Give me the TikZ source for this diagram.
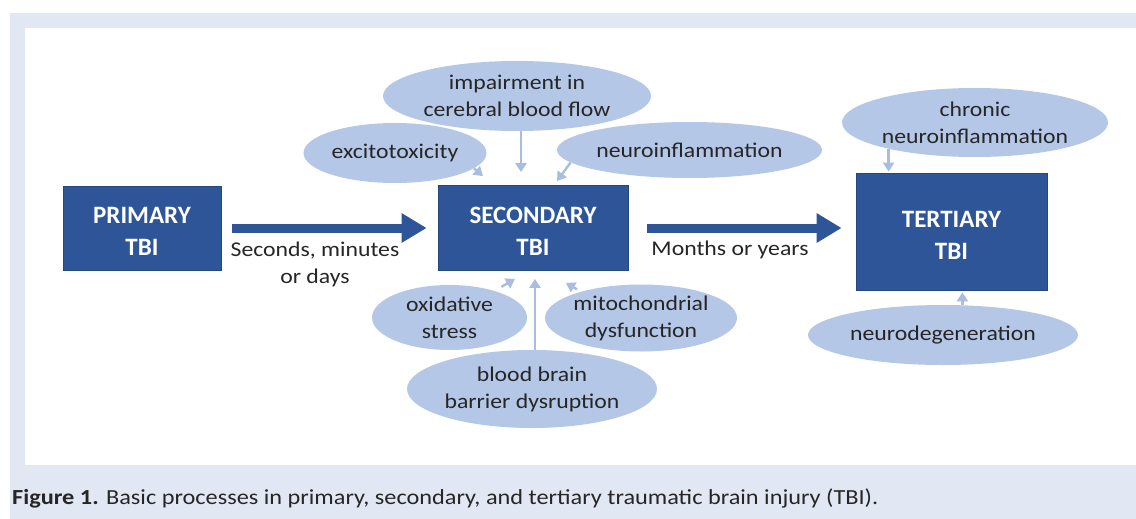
\documentclass[tikz,border=0pt]{standalone}
\usepackage{fontspec}
\setmainfont{Carlito}
\newfontfamily\widefont[FakeStretch=1.13]{Carlito}
\usetikzlibrary{shapes.geometric, arrows.meta}
\definecolor{CFrame}{HTML}{E1E8F4}
\definecolor{CBox}{HTML}{2D5597}
\definecolor{CBoxLine}{HTML}{24477E}
\definecolor{CBubble}{HTML}{B4C7E7}
\definecolor{CFeed}{HTML}{A8BDE0}
\definecolor{CText}{HTML}{262626}

\begin{document}
\begin{tikzpicture}[x=1pt, y=-1pt,
    tbibox/.style={draw=CBoxLine, line width=0.8pt, fill=CBox, text=white, align=center,
        inner sep=0pt, text height=55pt, font=\fontsize{25}{32}\selectfont\bfseries},
    bubble/.style={ellipse, fill=CBubble, text=CText, align=center, inner sep=-10pt,
        font=\widefont\fontsize{21}{27}\selectfont},
    feed/.style={draw=CFeed, line width=2.4pt, -{Triangle[length=9pt, width=11pt]}},
    bigarrow/.style={draw=CBox, line width=9pt, -{Triangle[length=25pt, width=28pt]}},
    timelabel/.style={text=CText, align=center, inner sep=0pt,
        font=\widefont\fontsize{21}{27}\selectfont}]
    \useasboundingbox (0,0) rectangle (1136,519);
    \fill [CFrame] (10,13) rectangle (1136,519);
    \fill [white]  (25,28) rectangle (1136,465);

    % the three stages
    \node [tbibox, minimum width=158pt, minimum height=84pt]  (primary)   at (142,228)    {PRIMARY\\TBI};
    \node [tbibox, minimum width=190pt, minimum height=85pt]  (secondary) at (533,228)    {SECONDARY\\TBI};
    \node [tbibox, minimum width=191pt, minimum height=117pt] (tertiary)  at (951.5,231.5) {TERTIARY\\TBI};

    % processes
    \node [bubble, minimum width=268pt, minimum height=70pt] (flow)    at (517,96)      {impairment in\\cerebral blood flow};
    \node [bubble, minimum width=183pt, minimum height=60pt] (excito)  at (395,153)     {excitotoxicity};
    \node [bubble, minimum width=265pt, minimum height=56pt] (neuro)   at (689.5,150)   {neuroinflammation};
    \node [bubble, minimum width=266pt, minimum height=69pt] (chronic) at (975,122.5)   {chronic\\neuroinflammation};
    \node [bubble, minimum width=155pt, minimum height=65pt] (oxid)    at (449.5,317.5) {oxidative\\stress};
    \node [bubble, minimum width=192pt, minimum height=67pt] (mito)    at (641,318)     {mitochondrial\\dysfunction};
    \node [bubble, minimum width=250pt, minimum height=78pt] (barrier) at (532,389)     {blood brain\\barrier dysruption};
    \node [bubble, minimum width=270pt, minimum height=60pt] (degen)   at (943,335)     {neurodegeneration};

    \draw [feed] (excito.-11) -- ([xshift=-50pt, yshift=9pt]secondary.north);
    \draw [feed] ([xshift=4pt]flow.south) -- ([xshift=-12pt, yshift=13pt]secondary.north);
    \draw [feed] (neuro.186) -- ([xshift=24pt, yshift=4pt]secondary.north);
    \draw [feed] ([xshift=52pt, yshift=-2pt]oxid.north) -- ([xshift=-18pt, yshift=-8pt]secondary.south);
    \draw [feed] ([xshift=3pt]barrier.north) -- ([xshift=2pt, yshift=-8pt]secondary.south);
    \draw [feed] ([xshift=-64pt, yshift=-5pt]mito.north) -- ([xshift=33pt, yshift=-12pt]secondary.south);
    \draw [feed] (chronic.197) -- ([yshift=1pt]chronic.197 |- tertiary.north);
    \draw [feed] (degen.57) -- ([yshift=-2pt]degen.57 |- tertiary.south);

    % time course
    \draw [bigarrow, shorten <=11pt, shorten >=11pt] (primary) -- (secondary);
    \draw [bigarrow, shorten <=19pt, shorten >=14pt] (secondary.east) -- (secondary.east -| tertiary.west);
    \node [timelabel] (fast) at (315,264) {Seconds, minutes\\or days};
    \node [timelabel] (slow) at (730,250) {Months or years};

    \node [anchor=base west, inner sep=0pt, text=CText, font=\widefont\fontsize{21.5}{24}\selectfont] (caption) at (12,504)
        {\textbf{Figure 1.} Basic processes in primary, secondary, and tertiary traumatic brain injury (TBI).};
\end{tikzpicture}
\end{document}
